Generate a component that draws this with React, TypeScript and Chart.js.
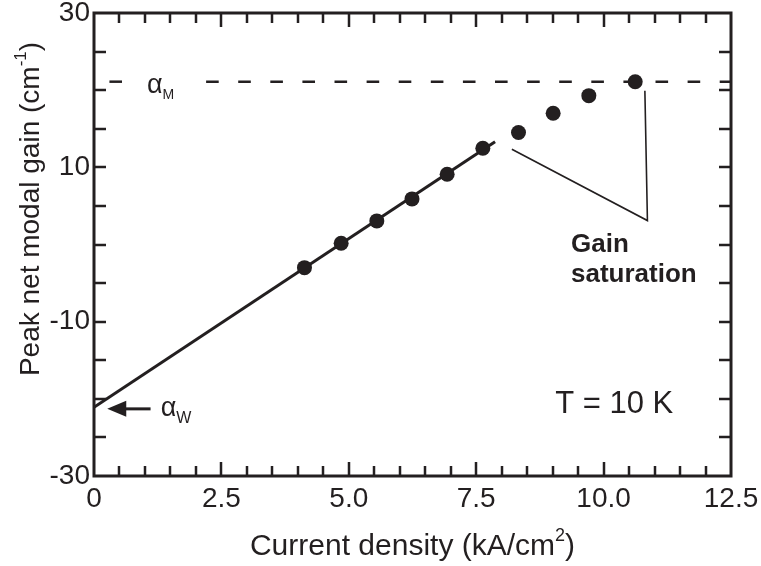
import React, { useEffect, useRef } from 'react';
import { Chart, registerables } from 'chart.js';

Chart.register(...registerables);

// ---- data ----
const currentDensity = [4.13, 4.85, 5.55, 6.24, 6.93, 7.63, 8.33, 9.01, 9.71, 10.62];
const netModalGain = [-3.0, 0.17, 3.06, 5.91, 9.11, 12.47, 14.52, 17.01, 19.29, 21.1];

const fitX = [0, 7.87];
const fitY = [-21.1, 13.3];

const alphaM = 21.1;
const alphaMLeftX = [0.55, 0];
const alphaMRightX = [2.2, 12.5];

const saturationX = [8.2, 10.86, 10.81];
const saturationY = [12.34, 3.1, 19.93];

const arrowX = [1.11, 0.26];
const arrowY = -21.3;

const xTickLabels = ['0', '2.5', '5.0', '7.5', '10.0', '12.5'];
const yTickLabels = ['-30', '-10', '10', '30'];

const FONT = '"Liberation Sans", Arial, Helvetica, sans-serif';
const INK = '#231f20';

type Part = { t: string; size: number; bold?: boolean; dy?: number };

function fontOf(p: Part) {
  return `${p.bold ? 'bold ' : ''}${p.size}px ${FONT}`;
}
function measureRich(ctx: CanvasRenderingContext2D, parts: Part[]) {
  let w = 0;
  for (const p of parts) {
    ctx.font = fontOf(p);
    w += ctx.measureText(p.t).width;
  }
  return w;
}
function drawRich(ctx: CanvasRenderingContext2D, x: number, y: number, parts: Part[]) {
  let cx = x;
  ctx.textAlign = 'left';
  ctx.textBaseline = 'alphabetic';
  for (const p of parts) {
    ctx.font = fontOf(p);
    ctx.fillText(p.t, cx, y + (p.dy || 0));
    cx += ctx.measureText(p.t).width;
  }
}

const decorPlugin = {
  id: 'decor',
  afterDraw(chart: any) {
    const { ctx, chartArea: a, scales } = chart;
    const x = scales.x;
    const y = scales.y;
    ctx.save();
    ctx.strokeStyle = INK;
    ctx.fillStyle = INK;
    ctx.lineCap = 'butt';

    // tick marks (inward, all four sides)
    ctx.lineWidth = 2.5;
    ctx.beginPath();
    for (let v = 0.5; v < 12.5; v += 0.5) {
      const px = Math.round(x.getPixelForValue(v));
      const major = Math.abs(v / 2.5 - Math.round(v / 2.5)) < 1e-6;
      const len = major ? 14 : 10;
      ctx.moveTo(px, a.bottom);
      ctx.lineTo(px, a.bottom - len);
      ctx.moveTo(px, a.top);
      ctx.lineTo(px, a.top + len);
    }
    for (let v = -25; v < 30; v += 5) {
      const py = Math.round(y.getPixelForValue(v));
      const len = 12;
      ctx.moveTo(a.left, py);
      ctx.lineTo(a.left + len, py);
      ctx.moveTo(a.right, py);
      ctx.lineTo(a.right - len, py);
    }
    ctx.stroke();

    // frame
    ctx.lineWidth = 3;
    ctx.strokeRect(a.left, a.top, a.right - a.left, a.bottom - a.top);

    // arrow to alpha_W
    const tailX = x.getPixelForValue(arrowX[0]);
    const tipX = x.getPixelForValue(arrowX[1]);
    const ay = y.getPixelForValue(arrowY);
    ctx.lineWidth = 3;
    ctx.beginPath();
    ctx.moveTo(tailX, ay);
    ctx.lineTo(tipX + 15, ay);
    ctx.stroke();
    ctx.beginPath();
    ctx.moveTo(tipX, ay);
    ctx.lineTo(tipX + 19, ay - 8);
    ctx.lineTo(tipX + 19, ay + 8);
    ctx.closePath();
    ctx.fill();

    // alpha labels
    const amY = y.getPixelForValue(alphaM);
    drawRich(ctx, x.getPixelForValue(1.04), amY + 11, [
      { t: 'α', size: 27 },
      { t: 'M', size: 14, dy: 6 },
    ]);
    drawRich(ctx, x.getPixelForValue(1.31), ay + 7, [
      { t: 'α', size: 27 },
      { t: 'W', size: 16, dy: 7 },
    ]);

    // Gain saturation
    const gsx = x.getPixelForValue(9.36);
    drawRich(ctx, gsx, y.getPixelForValue(-0.96), [{ t: 'Gain', size: 26, bold: true }]);
    drawRich(ctx, gsx, y.getPixelForValue(-4.8), [{ t: 'saturation', size: 26, bold: true }]);

    // T = 10 K
    drawRich(ctx, x.getPixelForValue(9.05), y.getPixelForValue(-21.8), [{ t: 'T = 10 K', size: 31 }]);

    // axis titles
    const xt: Part[] = [
      { t: 'Current density (kA/cm', size: 30 },
      { t: '2', size: 18, dy: -14 },
      { t: ')', size: 30 },
    ];
    const xw = measureRich(ctx, xt);
    drawRich(ctx, (a.left + a.right) / 2 - xw / 2, 555, xt);

    const yt: Part[] = [
      { t: 'Peak net modal gain (cm', size: 28 },
      { t: '-1', size: 17, dy: -13 },
      { t: ')', size: 28 },
    ];
    const yw = measureRich(ctx, yt);
    ctx.save();
    ctx.translate(39, 209 + yw / 2);
    ctx.rotate(-Math.PI / 2);
    drawRich(ctx, 0, 0, yt);
    ctx.restore();

    ctx.restore();
  },
};

export default function App() {
  const ref = useRef<HTMLCanvasElement>(null);
  useEffect(() => {
    const points = currentDensity.map((v, i) => ({ x: v, y: netModalGain[i] }));
    const fit = fitX.map((v, i) => ({ x: v, y: fitY[i] }));
    const amLeft = alphaMLeftX.map((v) => ({ x: v, y: alphaM }));
    const amRight = alphaMRightX.map((v) => ({ x: v, y: alphaM }));
    const sat = saturationX.map((v, i) => ({ x: v, y: saturationY[i] }));
    const lineDs = (data: any[], width: number, dash: number[] = []) => ({
      data,
      showLine: true,
      borderColor: INK,
      borderWidth: width,
      borderDash: dash,
      pointRadius: 0,
      pointHoverRadius: 0,
      fill: false,
      tension: 0,
    });
    const chart = new Chart(ref.current as HTMLCanvasElement, {
      type: 'scatter',
      data: {
        datasets: [
          {
            data: points,
            pointRadius: 7.5,
            pointBackgroundColor: INK,
            pointBorderWidth: 0,
            pointBorderColor: INK,
            showLine: false,
          } as any,
          lineDs(fit, 3),
          lineDs(amLeft, 2.5, [12.6, 19.5]),
          lineDs(amRight, 2.5, [12.6, 19.5]),
          lineDs(sat, 1.6),
        ],
      },
      plugins: [decorPlugin],
      options: {
        responsive: false,
        animation: false,
        devicePixelRatio: 1,
        layout: { padding: { top: 13, right: 30, left: 0, bottom: 0 } },
        plugins: { legend: { display: false }, tooltip: { enabled: false } },
        scales: {
          x: {
            type: 'linear',
            position: 'bottom',
            min: 0,
            max: 12.5,
            afterFit: (s: any) => {
              s.height = 90;
              s.paddingLeft = 0;
              s.paddingRight = 0;
            },
            ticks: {
              stepSize: 2.5,
              autoSkip: false,
              maxRotation: 0,
              padding: 6,
              color: INK,
              font: { family: FONT, size: 28 },
              callback: (_v: any, i: number) => xTickLabels[i],
            },
            grid: { display: false, drawTicks: false },
            border: { display: false },
          },
          y: {
            type: 'linear',
            min: -30,
            max: 30,
            afterFit: (s: any) => {
              s.width = 94;
              s.paddingTop = 0;
              s.paddingBottom = 0;
            },
            ticks: {
              stepSize: 20,
              autoSkip: false,
              padding: 4,
              color: INK,
              font: { family: FONT, size: 28 },
              callback: (_v: any, i: number) => yTickLabels[i],
            },
            grid: { display: false, drawTicks: false },
            border: { display: false },
          },
        },
      } as any,
    });
    return () => chart.destroy();
  }, []);
  return (
    <div style={{ position: 'absolute', left: 0, top: 0, width: 761, height: 566, background: '#fff' }}>
      <canvas ref={ref} width={761} height={566} style={{ display: 'block' }} />
    </div>
  );
}
